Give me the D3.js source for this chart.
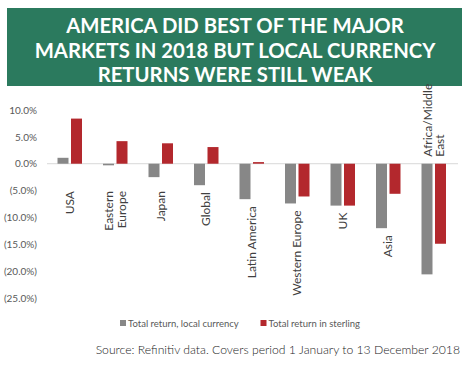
<!DOCTYPE html>
<html>
<head>
<meta charset="utf-8">
<script src="https://cdn.jsdelivr.net/npm/d3@7"></script>
<style>
  body { margin: 0; background: #fff; }
  text { font-family: Lato, "Open Sans", sans-serif; }
</style>
</head>
<body>
<script>
// data
var categories = [["USA"], ["Eastern", "Europe"], ["Japan"], ["Global"], ["Latin America"],
                  ["Western Europe"], ["UK"], ["Asia"], ["Africa/Middle", "East"]];
var localReturn = [1.1, -0.3, -2.5, -4.0, -6.6, -7.4, -7.8, -12.0, -20.6];
var sterlingReturn = [8.4, 4.2, 3.8, 3.1, 0.3, -6.1, -7.8, -5.6, -14.9];
var yTicks = [10, 5, 0, -5, -10, -15, -20, -25];
var seriesNames = ["Total return, local currency", "Total return in sterling"];
var titleLines = ["AMERICA DID BEST OF THE MAJOR", "MARKETS IN 2018 BUT LOCAL CURRENCY", "RETURNS WERE STILL WEAK"];
var sourceText = "Source: Refinitiv data. Covers period 1 January to 13 December 2018";

var W = 475, H = 366;
var colors = ["#878787", "#b3282d"];

var svg = d3.select("body").append("svg")
  .attr("width", W)
  .attr("height", H);

// title banner
svg.append("rect")
  .attr("x", 7).attr("y", 8)
  .attr("width", 455).attr("height", 78)
  .attr("fill", "#2b7a5e");

svg.selectAll(".title")
  .data(titleLines)
  .enter()
  .append("text")
  .attr("class", "title")
  .attr("x", 235)
  .attr("y", function(d, i) { return 33 + i * 24.5; })
  .attr("text-anchor", "middle")
  .attr("fill", "#fff")
  .attr("font-weight", "bold")
  .attr("font-size", "20.3px")
  .text(function(d) { return d; });

// scales
var x = d3.scaleBand().domain(d3.range(categories.length)).range([47, 456.5]);
var y = d3.scaleLinear().domain([-25, 10]).range([298, 110]);

var barW = 11, gap = 2.5;

// y axis (labels only)
var yAxis = d3.axisLeft(y).tickValues(yTicks).tickSize(0).tickPadding(0)
  .tickFormat(function(d) {
    var s = Math.abs(d).toFixed(1) + "%";
    return d < 0 ? "(" + s + ")" : s;
  });
var yAxisGroup = svg.append("g")
  .attr("transform", "translate(37,0)")
  .call(yAxis);
yAxisGroup.select(".domain").remove();
yAxisGroup.selectAll("text")
  .attr("fill", "#595959")
  .attr("font-size", "10px")
  .style("font-family", "Lato, sans-serif");

// zero line
svg.append("line")
  .attr("x1", 47).attr("x2", 458)
  .attr("y1", y(0)).attr("y2", y(0))
  .attr("stroke", "#d9d9d9")
  .attr("stroke-width", 1);

// bars
[localReturn, sterlingReturn].forEach(function(series, s) {
  svg.selectAll(".bar" + s)
    .data(series)
    .enter()
    .append("rect")
    .attr("class", "bar" + s)
    .attr("x", function(d, i) {
      var c = x(i) + x.bandwidth() / 2;
      return s == 0 ? c - gap / 2 - barW : c + gap / 2;
    })
    .attr("y", function(d) { return y(Math.max(0, d)); })
    .attr("width", barW)
    .attr("height", function(d) { return Math.max(1, Math.abs(y(d) - y(0))); })
    .attr("fill", colors[s]);
});

// category labels, rotated, under the lowest bar (above the zero line when there is no room)
function lowest(i) { return Math.min(0, localReturn[i], sterlingReturn[i]); }
function flipped(i) { return lowest(i) < -15; }

var labels = svg.selectAll(".cat")
  .data(categories)
  .enter()
  .append("text")
  .attr("class", "cat")
  .attr("fill", "#404040")
  .attr("font-size", "12px")
  .attr("transform", function(d, i) {
    var cx = x(i) + x.bandwidth() / 2;
    var top = flipped(i) ? y(0) - 7 : Math.max(y(lowest(i)) + 7, 191);
    return "translate(" + cx + "," + top + ") rotate(-90)";
  })
  .attr("text-anchor", function(d, i) { return flipped(i) ? "start" : "end"; });

labels.each(function(d) {
  var t = d3.select(this);
  var n = d.length;
  d.forEach(function(line, j) {
    t.append("tspan")
      .attr("x", 0)
      .attr("y", ((j - (n - 1) / 2) * 12.5) + 4.2)
      .text(line);
  });
});

// legend
var legend = svg.selectAll(".legend")
  .data(seriesNames)
  .enter()
  .append("g")
  .attr("class", "legend")
  .attr("transform", function(d, i) { return "translate(" + (i == 0 ? 120 : 260.5) + ",323)"; });
legend.append("rect")
  .attr("x", 0).attr("y", -3)
  .attr("width", 6).attr("height", 6)
  .attr("fill", function(d, i) { return colors[i]; });
legend.append("text")
  .attr("x", 8)
  .attr("y", 3.5)
  .attr("fill", "#595959")
  .attr("font-size", "9.5px")
  .text(function(d) { return d; });

// source note
svg.append("text")
  .attr("x", 460)
  .attr("y", 354)
  .attr("text-anchor", "end")
  .attr("fill", "#222")
  .attr("font-size", "12.2px")
  .attr("font-weight", 300)
  .text(sourceText);
</script>
</body>
</html>
